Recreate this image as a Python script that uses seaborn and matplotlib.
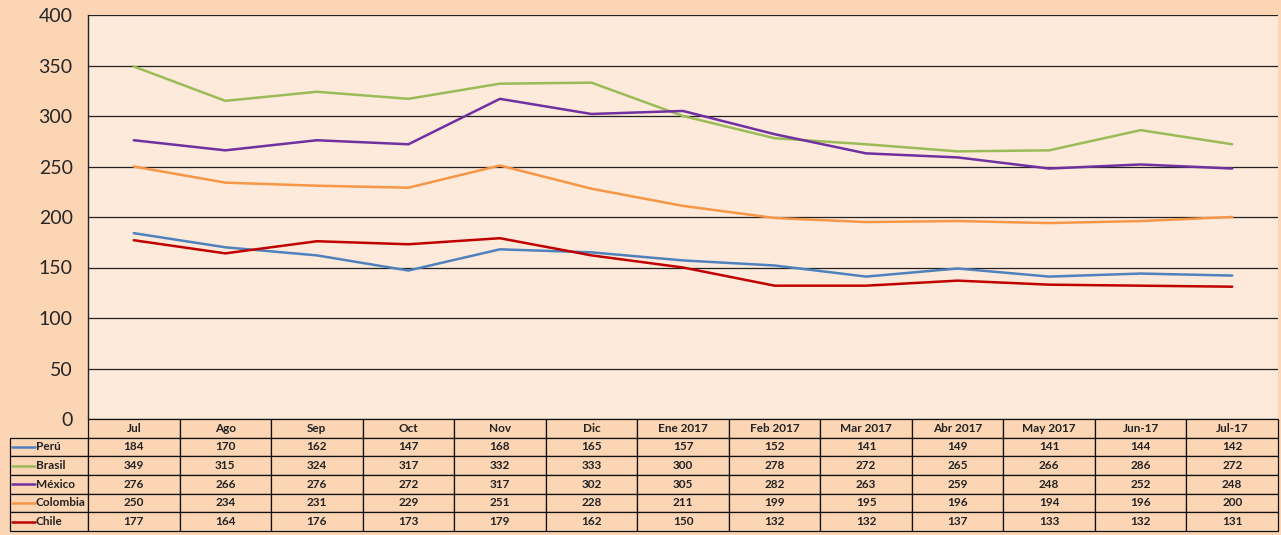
import matplotlib
matplotlib.use("Agg")
import matplotlib.pyplot as plt
import seaborn as sns
import pandas as pd

meses = ["Jul", "Ago", "Sep", "Oct", "Nov", "Dic", "Ene 2017", "Feb 2017",
         "Mar 2017", "Abr 2017", "May 2017", "Jun-17", "Jul-17"]
paises = ["Perú", "Brasil", "México", "Colombia", "Chile"]
peru = [184, 170, 162, 147, 168, 165, 157, 152, 141, 149, 141, 144, 142]
brasil = [349, 315, 324, 317, 332, 333, 300, 278, 272, 265, 266, 286, 272]
mexico = [276, 266, 276, 272, 317, 302, 305, 282, 263, 259, 248, 252, 248]
colombia = [250, 234, 231, 229, 251, 228, 211, 199, 195, 196, 194, 196, 200]
chile = [177, 164, 176, 173, 179, 162, 150, 132, 132, 137, 133, 132, 131]
colores = ["#4F81BD", "#9BBB59", "#7030A0", "#F79646", "#C00000"]

series = [peru, brasil, mexico, colombia, chile]
df = pd.DataFrame({
    "pos": list(range(len(meses))) * len(paises),
    "valor": sum(series, []),
    "pais": [p for p in paises for _ in meses],
})

sns.set_style("white")
plt.rcParams["font.family"] = ["Lato", "DejaVu Sans"]

fig = plt.figure(figsize=(12.81, 5.35), dpi=100, facecolor="#FCD5B5")
ax = fig.add_axes([88 / 1281, 116 / 535, 1190 / 1281, 404 / 535])
ax.set_facecolor("#FDEADA")

sns.lineplot(data=df, x="pos", y="valor", hue="pais", hue_order=paises,
             palette=colores, linewidth=1.8, legend=False, ax=ax)

ax.set_xlim(-0.5, len(meses) - 0.5)
ax.set_ylim(0, 400)
ax.set_yticks(range(0, 401, 50))
ax.set_xticks([])
ax.set_xlabel("")
ax.set_ylabel("")
ax.yaxis.grid(True, color="#222222", linewidth=0.9)
ax.set_axisbelow(True)
ax.tick_params(axis="y", length=0, labelsize=14, pad=11)
for s in ["top", "right", "bottom"]:
    ax.spines[s].set_visible(False)
ax.spines["left"].set_color("#222222")
ax.spines["left"].set_linewidth(1.0)

# Tabla de datos (primera columna = etiquetas, primera fila = meses)
ancho_lbl = 78 / 1190
alto_tabla = 112 / 404
celdas = [[""] + meses] + [[""] + [str(v) for v in s] for s in series]
tabla = ax.table(cellText=celdas, cellLoc="center",
                 bbox=[-ancho_lbl, -alto_tabla, 1 + ancho_lbl, alto_tabla])
tabla.auto_set_font_size(False)
for (r, c), cell in tabla.get_celld().items():
    cell.set_facecolor("#FCD5B5")
    cell.set_edgecolor("#111111")
    cell.set_linewidth(0.9)
    cell.get_text().set_fontsize(8.5)
    cell.get_text().set_fontweight("bold")
    cell.get_text().set_color("#222222")
    cell.set_width(78 if c == 0 else 91.5)
    if r == 0 and c == 0:
        cell.visible_edges = ""
        cell.set_facecolor("none")

# Leyenda dentro de la tabla
fila_h = alto_tabla / 6
for i, (p, col) in enumerate(zip(paises, colores)):
    yc = -alto_tabla + fila_h * (4.5 - i)
    x0 = -ancho_lbl + 2 / 1190
    ax.plot([x0, x0 + 23 / 1190], [yc, yc], color=col, linewidth=1.8,
            transform=ax.transAxes, clip_on=False)
    ax.text(x0 + 24 / 1190, yc, p, transform=ax.transAxes, fontsize=8.5,
            fontweight="bold", color="#222222", va="center", ha="left")

fig.savefig("out.png", dpi=100, facecolor=fig.get_facecolor())
